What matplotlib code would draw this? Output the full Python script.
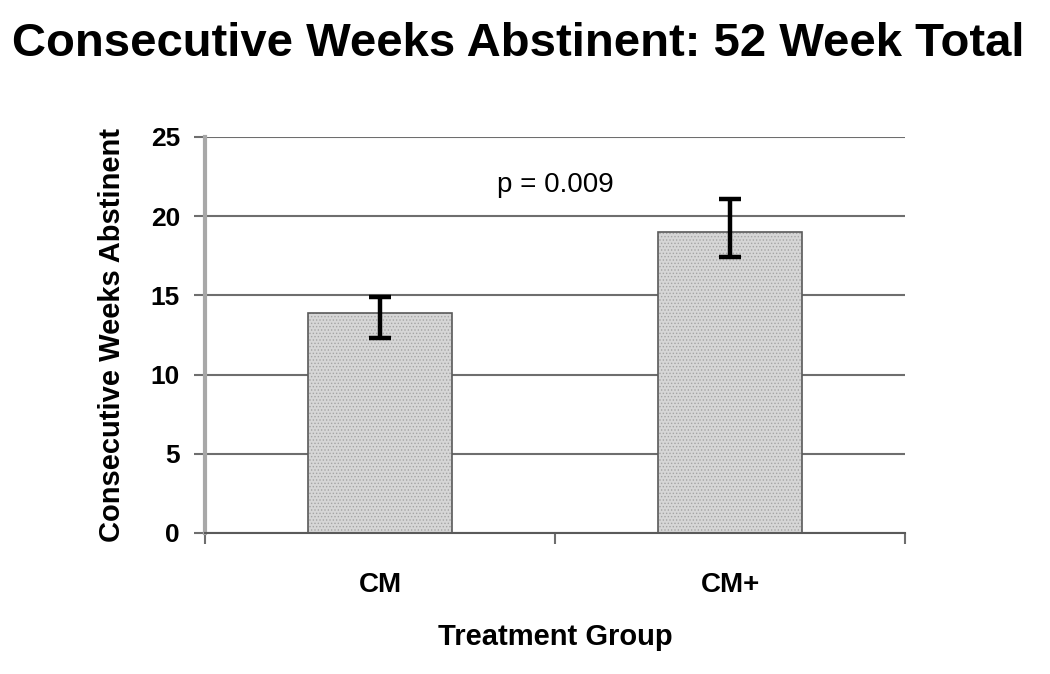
import matplotlib
matplotlib.use('Agg')
from matplotlib import pyplot as plt
import numpy as np

groups = ['CM', 'CM+']
weeks = [13.9, 19.0]
err_low = [12.3, 17.4]
err_high = [14.9, 21.1]
y_ticks = [0, 5, 10, 15, 20, 25]
p_text = 'p = 0.009'

plt.rcParams['font.family'] = ['Liberation Sans', 'DejaVu Sans']
plt.rcParams['hatch.linewidth'] = 0.6

fig = plt.figure(figsize=(10.5, 6.74), dpi=100)
ax = fig.add_axes([205 / 1050, 1 - 533 / 674, 700 / 1050, 396 / 674])

x = np.arange(len(groups))
weeks = np.array(weeks)
yerr = np.array([weeks - np.array(err_low), np.array(err_high) - weeks])

ax.bar(x, weeks, width=0.41, color='#d6d6d6', edgecolor='#a4a4a4', hatch='.....',
       linewidth=0, zorder=2)
ax.bar(x, weeks, width=0.41, fill=False, edgecolor='#5a5a5a', linewidth=1.2, zorder=3)
ax.errorbar(x, weeks, yerr=yerr, fmt='none', ecolor='black', elinewidth=3.2,
            capsize=8, capthick=3.2, zorder=4)

ax.set_xlim(-0.5, 1.5)
ax.set_ylim(0, 25)
ax.set_yticks(y_ticks)
ax.set_yticklabels([str(t) for t in y_ticks], fontsize=19, fontweight='bold')
ax.yaxis.grid(True, color='#6e6e6e', linewidth=1.5, zorder=1)
ax.set_axisbelow(True)

ax.set_xticks(x)
ax.set_xticklabels(groups, fontsize=20, fontweight='bold')
ax.tick_params(axis='x', which='major', length=0, pad=28)
ax.set_xticks([-0.5, 0.5, 1.5], minor=True)
ax.tick_params(axis='x', which='minor', length=8, width=1.5, color='#6e6e6e')
ax.tick_params(axis='y', length=8, width=1.5, color='#6e6e6e', pad=10)

for s in ['top', 'right']:
    ax.spines[s].set_visible(False)
ax.spines['left'].set_color('#a8a8a8')
ax.spines['left'].set_linewidth(3)
ax.spines['bottom'].set_color('#5a5a5a')
ax.spines['bottom'].set_linewidth(1.5)

ax.text(0.5, 22, p_text, ha='center', va='center', fontsize=20)

ax.set_xlabel('Treatment Group', fontsize=21, fontweight='bold', labelpad=18)
ax.set_ylabel('Consecutive Weeks Abstinent', fontsize=21, fontweight='bold', labelpad=18)

fig.suptitle('Consecutive Weeks Abstinent: 52 Week Total', fontsize=34, fontweight='bold',
             x=0.494, y=0.967)

fig.savefig('out.png', dpi=100)
